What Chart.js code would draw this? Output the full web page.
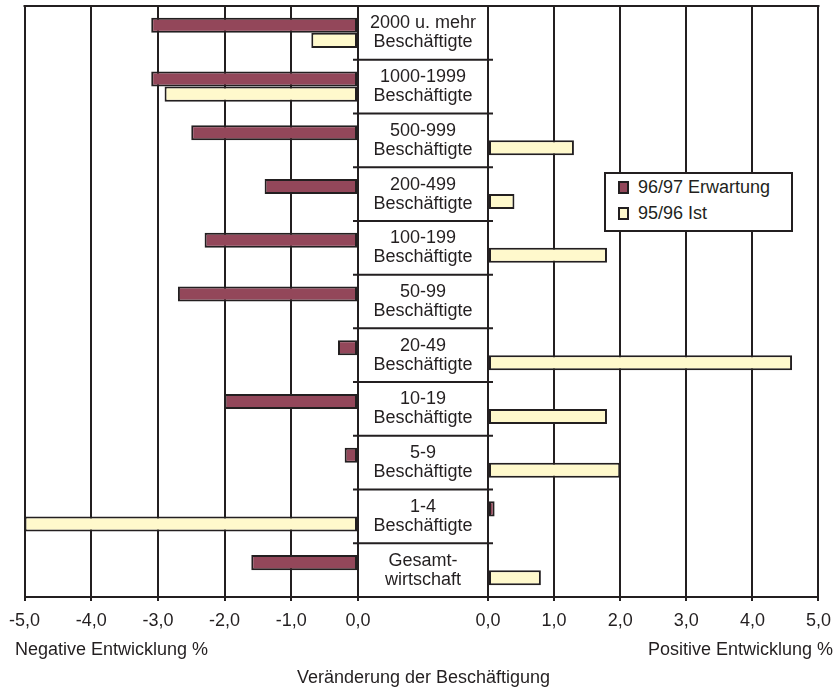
<!DOCTYPE html>
<html lang="de">
<head>
<meta charset="utf-8">
<title>Veränderung der Beschäftigung</title>
<script src="https://cdn.jsdelivr.net/npm/chart.js@4.4.0/dist/chart.umd.min.js"></script>
<style>
  html, body { margin: 0; padding: 0; background: #fff; }
  #wrap { position: relative; width: 840px; height: 698px; }
  #wrap canvas { position: absolute; left: 0; top: 0; }
  #legend {
    position: absolute; left: 604px; top: 172px; width: 185px; height: 56px;
    border: 2px solid #231f20; background: #fff;
    font: 18px "Liberation Sans", Arial, sans-serif; color: #231f20;
  }
  #legend .item { height: 26px; line-height: 26px; display: flex; align-items: center; padding-left: 12px; }
  #legend .box { width: 7px; height: 9px; border: 2px solid #231f20; margin-right: 9px; }
</style>
</head>
<body>
<div id="wrap">
  <canvas id="posChart" width="840" height="698"></canvas>
  <canvas id="negChart" width="380" height="698"></canvas>
  <div id="legend"></div>
</div>
<script>
// categories, top to bottom (two lines each)
const categories = [
    ['2000 u. mehr', 'Beschäftigte'],
    ['1000-1999', 'Beschäftigte'],
    ['500-999', 'Beschäftigte'],
    ['200-499', 'Beschäftigte'],
    ['100-199', 'Beschäftigte'],
    ['50-99', 'Beschäftigte'],
    ['20-49', 'Beschäftigte'],
    ['10-19', 'Beschäftigte'],
    ['5-9', 'Beschäftigte'],
    ['1-4', 'Beschäftigte'],
    ['Gesamt-', 'wirtschaft']
];
const seriesNames = ['96/97 Erwartung', '95/96 Ist'];
const erwartung = [-3.1, -3.1, -2.5, -1.4, -2.3, -2.7, -0.3, -2.0, -0.2, 0.1, -1.6];
const ist = [-0.7, -2.9, 1.3, 0.4, 1.8, 0, 4.6, 1.8, 2.0, -5.0, 0.8];
const negTickLabels = ['-5,0', '-4,0', '-3,0', '-2,0', '-1,0', '0,0'];
const posTickLabels = ['0,0', '1,0', '2,0', '3,0', '4,0', '5,0'];

const ink = '#231f20';
const colors = ['#93475a', '#fff9cc'];
const fontFamily = '"Liberation Sans", Arial, Helvetica, sans-serif';
const labelColWidth = 130;

Chart.defaults.font.family = fontFamily;
Chart.defaults.font.size = 18;
Chart.defaults.color = ink;

function makeDatasets(keep) {
    return [erwartung, ist].map((vals, i) => ({
        label: seriesNames[i],
        data: vals.map(v => keep(v) ? v : null),
        backgroundColor: colors[i],
        borderColor: ink,
        borderWidth: 2,
        borderSkipped: false,
        categoryPercentage: 0.56,
        barPercentage: 1.0
    }));
}

// top frame line over the plot area
const frameTop = {
    id: 'frameTop',
    afterDraw(chart) {
        const { ctx, chartArea } = chart;
        ctx.save();
        ctx.strokeStyle = ink;
        ctx.lineWidth = 2;
        ctx.beginPath();
        ctx.moveTo(chartArea.left - 1, chartArea.top);
        ctx.lineTo(chartArea.right + 1, chartArea.top);
        ctx.stroke();
        ctx.restore();
    }
};

// boxed category labels between the two halves
const labelColumn = {
    id: 'labelColumn',
    afterDraw(chart) {
        const { ctx, chartArea, scales: { y } } = chart;
        const right = chartArea.left;
        const left = right - labelColWidth;
        ctx.save();
        ctx.strokeStyle = ink;
        ctx.lineWidth = 2;
        ctx.beginPath();
        ctx.moveTo(left - 1, chartArea.top);
        ctx.lineTo(right, chartArea.top);
        for (let i = 1; i < categories.length; i++) {
            const py = y.getPixelForValue(i - 0.5);
            ctx.moveTo(left - 5, py);
            ctx.lineTo(right + 5, py);
        }
        ctx.moveTo(left - 1, chartArea.bottom);
        ctx.lineTo(right, chartArea.bottom);
        ctx.stroke();

        ctx.fillStyle = ink;
        ctx.font = '18px ' + fontFamily;
        ctx.textAlign = 'center';
        ctx.textBaseline = 'middle';
        categories.forEach((lines, i) => {
            const cy = y.getPixelForValue(i);
            lines.forEach((t, k) => {
                ctx.fillText(t, (left + right) / 2, cy + (k - (lines.length - 1) / 2) * 19);
            });
        });
        ctx.restore();
    }
};

const xGrid = { color: ink, lineWidth: 2, tickLength: 4 };
const xBorder = { color: ink, width: 2 };
const xAxisHeight = 34.6;

// right half: positive values, label column and bottom titles
const posChart = new Chart(document.getElementById('posChart'), {
    type: 'bar',
    data: { labels: categories, datasets: makeDatasets(v => v > 0) },
    options: {
        indexAxis: 'y',
        responsive: false,
        animation: false,
        layout: { padding: { top: 6, right: 7, left: 14, bottom: 0 } },
        scales: {
            x: {
                min: 0, max: 5,
                ticks: { stepSize: 1, padding: 9, maxRotation: 0, callback: (v, i) => posTickLabels[i] },
                grid: xGrid,
                border: xBorder,
                afterFit: s => { s.height = xAxisHeight; }
            },
            y: {
                ticks: { display: false },
                grid: { display: false },
                border: { color: ink, width: 2 },
                afterFit: s => { s.width = 474; }
            }
        },
        plugins: {
            legend: { display: false },
            tooltip: { enabled: false },
            subtitle: {
                display: true, position: 'bottom', align: 'end',
                text: 'Positive Entwicklung %',
                font: { size: 18, weight: 'normal' }, color: ink,
                padding: { top: 7.6, bottom: 0 }
            },
            title: {
                display: true, position: 'bottom', align: 'center',
                text: 'Veränderung der Beschäftigung',
                font: { size: 18, weight: 'normal' }, color: ink,
                padding: { top: 6.4, bottom: 9.2 }
            }
        }
    },
    plugins: [frameTop, labelColumn]
});

// left half: negative values
const negChart = new Chart(document.getElementById('negChart'), {
    type: 'bar',
    data: { labels: categories, datasets: makeDatasets(v => v < 0) },
    options: {
        indexAxis: 'y',
        responsive: false,
        animation: false,
        layout: { padding: { top: 6, right: 22, left: 15, bottom: 37.2 } },
        scales: {
            x: {
                min: -5, max: 0,
                ticks: { stepSize: 1, padding: 9, maxRotation: 0, callback: (v, i) => negTickLabels[i] },
                grid: xGrid,
                border: xBorder,
                afterFit: s => { s.height = xAxisHeight; }
            },
            y: {
                ticks: { display: false },
                grid: { display: false },
                border: { display: false },
                afterFit: s => { s.width = 9; }
            }
        },
        plugins: {
            legend: { display: false },
            tooltip: { enabled: false },
            subtitle: {
                display: true, position: 'bottom', align: 'start',
                text: 'Negative Entwicklung %',
                font: { size: 18, weight: 'normal' }, color: ink,
                padding: { top: 7.6, bottom: 0 }
            }
        }
    },
    plugins: [frameTop]
});

// legend box inside the right half
document.getElementById('legend').innerHTML = posChart.data.datasets.map(ds =>
    `<div class="item"><span class="box" style="background:${ds.backgroundColor}"></span>${ds.label}</div>`
).join('');
</script>
</body>
</html>
